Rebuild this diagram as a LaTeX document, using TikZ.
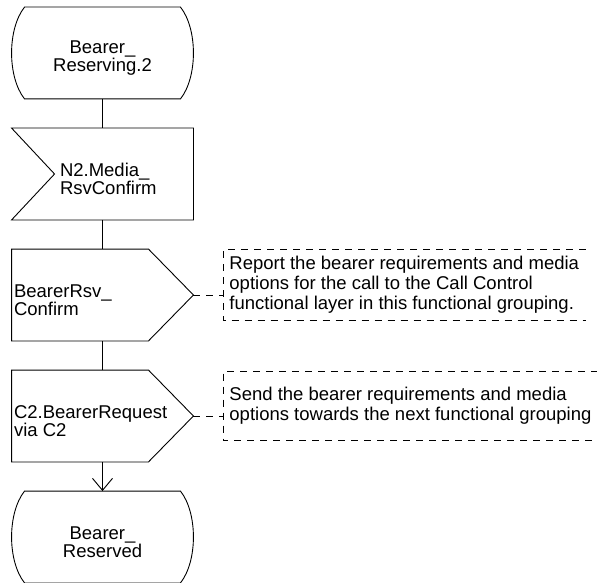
\documentclass[tikz,border=0pt]{standalone}
\usepackage{fontspec}
\setmainfont{Liberation Sans}
\usetikzlibrary{positioning,arrows.meta}

\begin{document}
\begin{tikzpicture}[x=1pt, y=-1pt, line width=0.9pt,
    every node/.style={font=\fontsize{18.5}{18}\selectfont},
    symb/.style={minimum width=181pt, minimum height=91pt, inner sep=0pt},
    txt/.style={inner sep=0pt, align=left},
    cmt/.style={anchor=west, minimum height=70pt, inner xsep=6pt, inner ysep=0pt, align=left,
      font=\fontsize{18.5}{20}\selectfont},
    cmtline/.style={dash pattern=on 7pt off 6pt}]
  \useasboundingbox (0,0) rectangle (597,583);
  % symbols
  \node[symb] (rsving) at (102.5,53) {};
  \node[symb] (mrc) at (102.5,174) {};
  \node[symb] (brc) at (102.5,295) {};
  \node[symb] (breq) at (102.5,416) {};
  \node[symb] (rsved) at (102.5,537) {};
  \foreach \s in {rsving,rsved}
    \draw ([xshift=13pt]\s.north west) -- ([xshift=-13pt]\s.north east)
      .. controls ([xshift=4.3pt,yshift=-22pt]\s.north east) and ([xshift=4.3pt,yshift=22pt]\s.south east) .. ([xshift=-13pt]\s.south east)
      -- ([xshift=13pt]\s.south west)
      .. controls ([xshift=-4.3pt,yshift=22pt]\s.south west) and ([xshift=-4.3pt,yshift=-22pt]\s.north west) .. cycle;
  \draw (mrc.north west) -- (mrc.north east) -- (mrc.south east) -- (mrc.south west) -- ([xshift=43pt]mrc.west) -- cycle;
  \foreach \s in {brc,breq}
    \draw (\s.north west) -- ([xshift=-45pt]\s.north east) -- (\s.east) -- ([xshift=-45pt]\s.south east) -- (\s.south west) -- cycle;
  % texts
  \node[txt,align=center] (rsvingtxt) at ([yshift=-5pt]rsving.center) {Bearer\_\\Reserving.2};
  \node[txt,anchor=west] (mrctxt) at ([xshift=48pt,yshift=-5pt]mrc.west) {N2.Media\_\\RsvConfirm};
  \node[txt,anchor=west] (brctxt) at ([xshift=2pt,yshift=-5pt]brc.west) {BearerRsv\_\\Confirm};
  \node[txt,anchor=west] (breqtxt) at ([xshift=2pt,yshift=-5pt]breq.west) {C2.BearerRequest\\via C2};
  \node[txt,align=center] (rsvedtxt) at ([yshift=-5pt]rsved.center) {Bearer\_\\Reserved};
  % flow
  \draw (rsving.south) -- (mrc.north);
  \draw (mrc.south) -- (brc.north);
  \draw (brc.south) -- (breq.north);
  \draw[-{Straight Barb[length=12pt,width=20pt]}] (breq.south) -- (rsved.north);
  % comments
  \node[cmt] (brccmt) at (223,285) {Report the bearer requirements and media\\options for the call to the Call Control\\functional layer in this functional grouping.};
  \node[cmt, minimum height=68pt] (breqcmt) at (223,406) {Send the bearer requirements and media\\options towards the next functional grouping};
  \foreach \c in {brccmt,breqcmt}
    \draw[cmtline] (\c.north east) -- (\c.north west) -- (\c.south west) -- (\c.south east);
  \draw[cmtline] (brc.east) -- (brc.east -| brccmt.west);
  \draw[cmtline] (breq.east) -- (breq.east -| breqcmt.west);
\end{tikzpicture}
\end{document}
